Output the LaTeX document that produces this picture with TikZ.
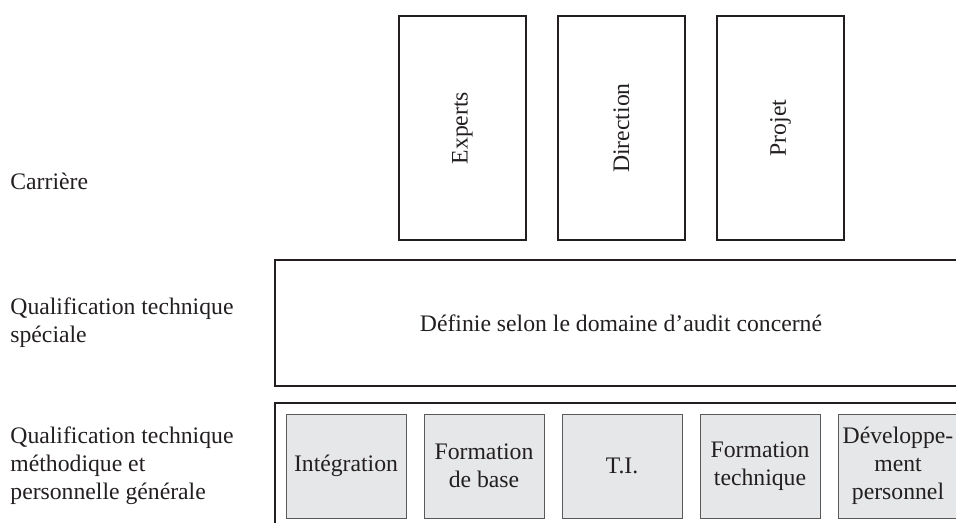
\documentclass[tikz,border=0pt]{standalone}
\usepackage{fontspec}
\usepackage{graphicx}
\setmainfont{Liberation Serif}
\definecolor{modgray}{HTML}{E6E7E8}
\definecolor{inkc}{HTML}{231F20}
\begin{document}
\begin{tikzpicture}[x=0.5pt,y=-0.5pt,
  every node/.style={font=\fontsize{11.85pt}{14pt}\selectfont, text=inkc},
  careerbox/.style={draw=inkc, line width=1pt, minimum width=63.5pt, minimum height=112pt, inner sep=0pt},
  bandbox/.style={draw=inkc, line width=1pt, minimum width=346pt, minimum height=63pt, inner sep=0pt},
  modbox/.style={draw=black!65, line width=0.5pt, fill=modgray, minimum width=60pt, minimum height=52pt, inner sep=0pt, align=center},
  rowlabel/.style={anchor=west, align=left, inner sep=0pt}]
\useasboundingbox (0,0) rectangle (956,523);
\clip (0,0) rectangle (956,523);

% career boxes
\node[careerbox] (exp) at (462.5,128) {\rotatebox{90}{Experts}};
\node[careerbox] (dir) at (621.5,128) {\rotatebox{90}{Direction}};
\node[careerbox] (proj) at (780.5,128) {\rotatebox{90}{Projet}};

% special band
\node[bandbox] (spec) at (621,323) {Définie selon le domaine d’audit concerné};

% general band
\node[bandbox] (gen) at (621,466) {};
\node[modbox] (m1) at (346,466) {Intégration};
\node[modbox] (m2) at (484,466) {Formation\\de base};
\node[modbox] (m3) at (622,466) {T.I.};
\node[modbox] (m4) at (760,466) {Formation\\technique};
\node[modbox] (m5) at (898,466) {Développe-\\ment\\personnel};

% row labels
\node[rowlabel] (l1) at (10,181) {Carrière};
\node[rowlabel] (l2) at (10,323) {Qualification technique\\spéciale};
\node[rowlabel] (l3) at (10,466) {Qualification technique\\méthodique et\\personnelle générale};
\end{tikzpicture}
\end{document}
